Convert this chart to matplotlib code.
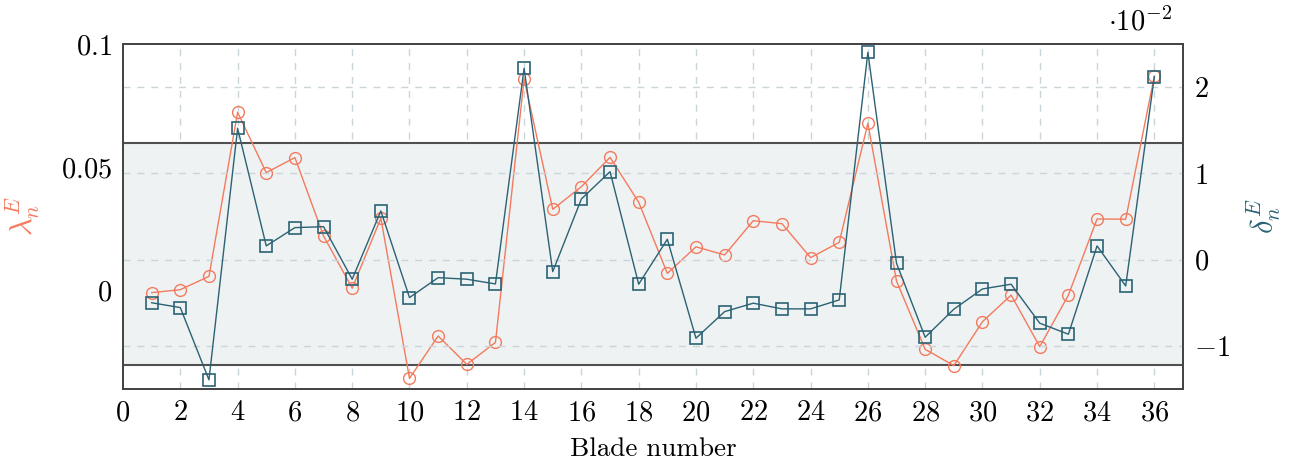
import numpy as np
import matplotlib
matplotlib.use("Agg")
from matplotlib import pyplot as plt

plt.rcParams["font.family"] = "serif"
plt.rcParams["font.serif"] = ["cmr10", "DejaVu Serif"]
plt.rcParams["mathtext.fontset"] = "cm"
plt.rcParams["axes.formatter.use_mathtext"] = True
plt.rcParams["axes.unicode_minus"] = True

blade = np.arange(1, 37)
# lambda_n^E (left axis, orange circles)
lam = [-0.0009, 0.0003, 0.0057, 0.0723, 0.0478, 0.0539, 0.0221, 0.0009, 0.0293, -0.0357,
       -0.0185, -0.0300, -0.0211, 0.0858, 0.0329, 0.0421, 0.0540, 0.0358, 0.0069, 0.0177,
       0.0144, 0.0283, 0.0271, 0.0133, 0.0195, 0.0678, 0.0038, -0.0239, -0.0305, -0.0127,
       -0.0019, -0.0228, -0.0019, 0.0290, 0.0289, 0.0870]
# delta_n^E in units of 1e-2 (right axis, teal squares)
dlt = [-0.50, -0.556, -1.394, 1.523, 0.159, 0.371, 0.382, -0.227, 0.564, -0.44,
       -0.209, -0.227, -0.282, 2.218, -0.139, 0.703, 1.020, -0.285, 0.236, -0.911,
       -0.603, -0.505, -0.571, -0.571, -0.467, 2.403, -0.042, -0.90, -0.575, -0.34,
       -0.285, -0.737, -0.865, 0.159, -0.305, 2.121]
band = [-0.0303, 0.0600]  # limits on left axis

orange = "#f47a5e"
teal = "#2b6274"
gridc = "#c9d5d9"

fig = plt.figure(figsize=(12.99, 4.68), dpi=100)
ax = fig.add_axes([0.0947, 0.1688, 0.8160, 0.7372])
ax2 = ax.twinx()

ax.set_xlim(0, 37)
ax.set_ylim(-0.04, 0.1)
ax2.set_ylim(-1.5, 2.5)

# vertical grid by hand so the band can cover it
for xv in np.arange(2, 37, 2):
    ax.axvline(xv, color=gridc, ls=(0, (5, 5)), lw=1.0, zorder=1)

ax.axhspan(band[0], band[1], color="#eef2f2", zorder=2, lw=0)
ax.axhline(band[0], color="#505050", lw=1.5, zorder=3)
ax.axhline(band[1], color="#505050", lw=1.5, zorder=3)

ax.plot(blade, lam, color=orange, lw=1.0, marker="o", ms=8.5, mfc="none",
        mec=orange, mew=1.0, zorder=4)
ax2.plot(blade, dlt, color=teal, lw=1.0, marker="s", ms=8.5, mfc="none",
         mec=teal, mew=1.2, zorder=4)

ax.set_xticks(np.arange(0, 37, 2))
ax.set_yticks([0, 0.05, 0.1])
ax.set_yticklabels(["$0$", "$0.05$", "$0.1$"])
ax2.set_yticks([-1, 0, 1, 2])
ax2.set_yticklabels(["$-1$", "$0$", "$1$", "$2$"])
ax.set_xticklabels(["$%d$" % v for v in np.arange(0, 37, 2)])

ax.grid(False)
ax2.grid(False)
ax2.grid(axis="y", color=gridc, ls=(0, (5, 5)), lw=1.0)

for a in (ax, ax2):
    a.tick_params(length=0, labelsize=20.5, pad=8)
    for s in a.spines.values():
        s.set_color("#444444")
        s.set_linewidth(1.3)

ax.set_xlabel("Blade number", fontsize=19.5)
ax.xaxis.set_label_coords(0.5, -0.14)
ax.set_ylabel(r"$\lambda_n^E$", color=orange, fontsize=22)
ax.yaxis.set_label_coords(-0.076, 0.5)
ax2.set_ylabel(r"$\delta_n^E$", color=teal, fontsize=22)
ax2.yaxis.set_label_coords(1.058, 0.5)
fig.text(0.878, 0.953, r"$\cdot 10^{-2}$", fontsize=20.5, ha="center", va="center")

plt.savefig("out.png", dpi=100)
